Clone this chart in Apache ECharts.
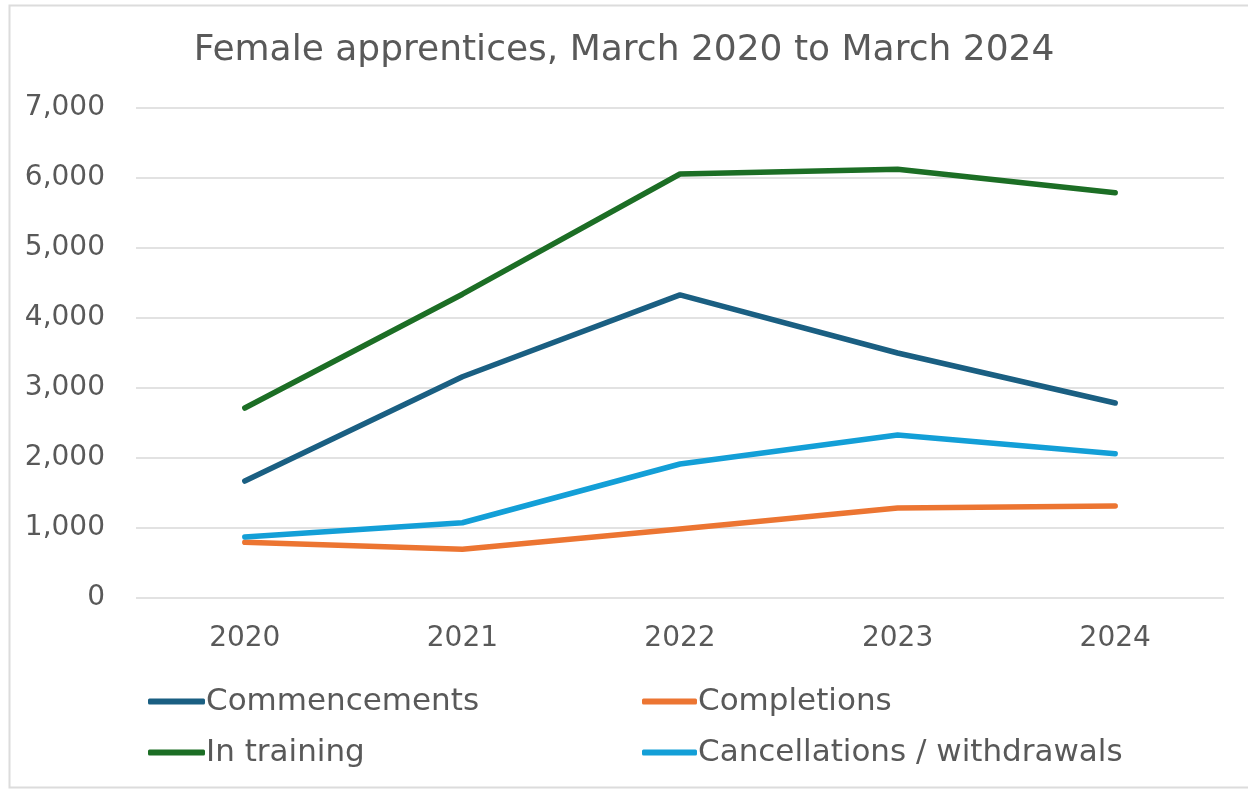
<!DOCTYPE html>
<html>
<head>
<meta charset="utf-8">
<script src="https://cdn.jsdelivr.net/npm/echarts@6/dist/echarts.min.js"></script>
<style>
html,body{margin:0;padding:0;background:#fff;}
#c{width:1248px;height:789px;}
</style>
</head>
<body>
<div id="c"></div>
<script>
const categories = ['2020', '2021', '2022', '2023', '2024'];
const commencements = [1670, 3160, 4330, 3500, 2785];
const completions = [795, 698, 985, 1286, 1314];
const inTraining = [2714, 4340, 6057, 6126, 5788];
const cancellations = [870, 1075, 1914, 2329, 2060];
const yTicks = [0, 1000, 2000, 3000, 4000, 5000, 6000, 7000];

const FONT = 'DejaVu Sans';
const TXT = '#595959';

const chart = echarts.init(document.getElementById('c'));
function s(name, data, color) {
  return {
    name, type: 'line', data, symbol: 'none', smooth: false,
    lineStyle: { color, width: 5.5, cap: 'round', join: 'round' },
    itemStyle: { color }
  };
}
chart.setOption({
  animation: false,
  textStyle: { fontFamily: FONT },
  graphic: [{
    type: 'rect', silent: true,
    shape: { x: 9.5, y: 5.5, width: 1250, height: 782 },
    style: { fill: 'none', stroke: '#dcdcdc', lineWidth: 2 }
  }],
  title: {
    text: 'Female apprentices, March 2020 to March 2024',
    left: 'center', top: 28,
    textStyle: { fontFamily: FONT, fontSize: 36, fontWeight: 'normal', color: TXT }
  },
  grid: { left: 136, right: 24, top: 108, bottom: 191, containLabel: false },
  xAxis: {
    type: 'category', data: categories, boundaryGap: true,
    axisLine: { show: false }, axisTick: { show: false },
    axisLabel: { color: TXT, fontSize: 28, fontFamily: FONT, margin: 27 }
  },
  yAxis: {
    type: 'value', min: yTicks[0], max: yTicks[yTicks.length - 1], interval: 1000,
    axisLine: { show: false }, axisTick: { show: false },
    splitLine: { lineStyle: { color: '#d9d9d9', width: 1.5 } },
    axisLabel: {
      color: TXT, fontSize: 28, fontFamily: FONT, margin: 31,
      formatter: v => v.toLocaleString('en-US')
    }
  },
  legend: [
    {
      data: ['Commencements', 'In training'], orient: 'vertical',
      left: 143, top: 681, itemGap: 20, itemWidth: 57, itemHeight: 6, icon: 'roundRect',
      textStyle: { color: TXT, fontSize: 31, fontFamily: FONT, padding: [0, 0, 0, -4] }
    },
    {
      data: ['Completions', 'Cancellations / withdrawals'], orient: 'vertical',
      left: 637, top: 681, itemGap: 20, itemWidth: 55, itemHeight: 6, icon: 'roundRect',
      textStyle: { color: TXT, fontSize: 31, fontFamily: FONT, padding: [0, 0, 0, -4] }
    }
  ],
  series: [
    s('Commencements', commencements, '#1a5f82'),
    s('Completions', completions, '#ec7532'),
    s('In training', inTraining, '#1c6e25'),
    s('Cancellations / withdrawals', cancellations, '#139fd7')
  ]
});
</script>
</body>
</html>
